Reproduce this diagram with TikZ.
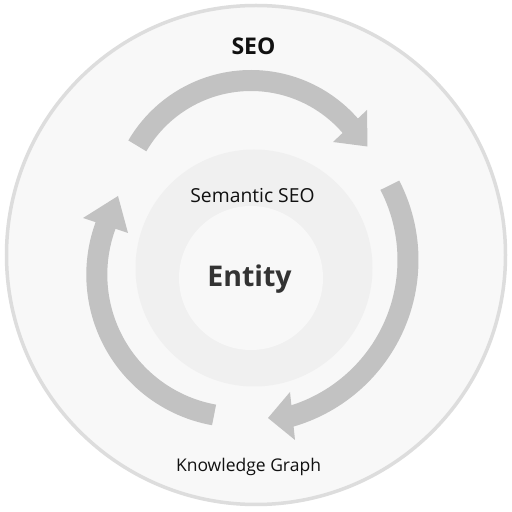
\documentclass[tikz,border=0pt]{standalone}
\usepackage{fontspec}
\setmainfont{Open Sans}
\definecolor{outerfill}{HTML}{F8F8F8}
\definecolor{outerline}{HTML}{DDDDDD}
\definecolor{ringfill}{HTML}{F0F0F0}
\definecolor{innerfill}{HTML}{F8F8F8}
\definecolor{bandcol}{HTML}{C2C2C2}
\definecolor{txt}{HTML}{111111}
\definecolor{enttxt}{HTML}{333333}
\tikzset{
  band/.style={draw=bandcol, line width=21pt},
  head/.style={fill=bandcol},
  lbl/.style={anchor=base, inner sep=0pt, text=txt}
}
\begin{document}
\begin{tikzpicture}[x=1pt,y=1pt]
\useasboundingbox (0,0) rectangle (512,512);
\fill[white] (0,0) rectangle (512,512);
% circles
\draw[outerline, line width=3.5pt, fill=outerfill] (256,257) circle[radius=249.5];
\fill[ringfill] (254,244) circle[radius=118.5];
\fill[innerfill] (251,234) circle[radius=72];
% top arrow
\draw[band] ([shift={(149.8:131.5)}]251,300) arc[start angle=149.8, end angle=38, radius=131.5];
\fill[head] (367.5,365.5) -- (367,402) -- (333,370) -- cycle;
% right arrow
\draw[band] ([shift={(27.3:163)}]245,252) arc[start angle=27.3, end angle=-76, radius=163];
\fill[head] (268,94) -- (290,120) -- (295,72) -- cycle;
% left arrow
\draw[band] ([shift={(259.8:142.5)}]239.3,237.3) arc[start angle=259.8, end angle=157, radius=142.5];
\fill[head] (118,316) -- (83,294) -- (128,279) -- cycle;
% texts
\node[lbl, font=\bfseries\fontsize{23}{23}\selectfont] (seo) at (253.5,457) {SEO};
\node[lbl, font=\fontsize{19.3}{19.3}\selectfont] (sem) at (252.5,309) {Semantic SEO};
\node[lbl, font=\bfseries\fontsize{28.5}{28.5}\selectfont, text=enttxt] (ent) at (249.5,225) {Entity};
\node[lbl, font=\fontsize{17.5}{17.5}\selectfont] (kg) at (248.5,41) {Knowledge Graph};
\end{tikzpicture}
\end{document}
